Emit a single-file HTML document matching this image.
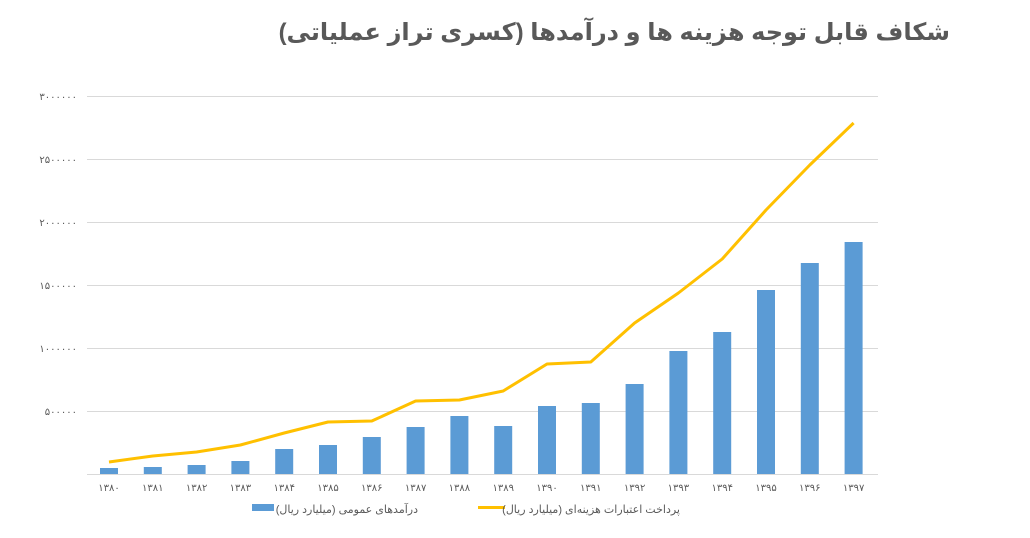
<!DOCTYPE html>
<html><head><meta charset="utf-8"><style>
body{margin:0;background:#fff;width:1030px;height:533px;overflow:hidden}
</style></head><body>
<svg width="1030" height="533" xmlns="http://www.w3.org/2000/svg" font-family="'Liberation Sans','DejaVu Sans',sans-serif">
<text x="950" y="40" text-anchor="start" direction="rtl" font-size="24" font-weight="bold" fill="#595959">شکاف قابل توجه  هزینه ها و درآمدها  (کسری تراز عملیاتی)</text>
<g stroke="#d9d9d9" stroke-width="1">
<line x1="87" x2="878" y1="96.5" y2="96.5"/><line x1="87" x2="878" y1="159.5" y2="159.5"/>
<line x1="87" x2="878" y1="222.5" y2="222.5"/><line x1="87" x2="878" y1="285.5" y2="285.5"/>
<line x1="87" x2="878" y1="348.5" y2="348.5"/><line x1="87" x2="878" y1="411.5" y2="411.5"/>
<line x1="87" x2="878" y1="474.5" y2="474.5"/>
</g>
<g font-size="10" fill="#595959" text-anchor="end">
<text x="77" y="100">۳۰۰۰۰۰۰</text><text x="77" y="163">۲۵۰۰۰۰۰</text><text x="77" y="226">۲۰۰۰۰۰۰</text>
<text x="77" y="289">۱۵۰۰۰۰۰</text><text x="77" y="352">۱۰۰۰۰۰۰</text><text x="77" y="415">۵۰۰۰۰۰</text>
</g>
<g fill="#5b9bd5" id="bars"></g>
<g id="xl" font-size="10" fill="#595959" text-anchor="middle"></g>
<polyline id="ln" fill="none" stroke="#ffc000" stroke-width="3" stroke-linejoin="round"/>
<rect x="252" y="504" width="22" height="7" fill="#5b9bd5"/>
<text x="418" y="513" text-anchor="start" direction="rtl" font-size="11" fill="#595959">درآمدهای عمومی (میلیارد ریال)</text>
<line x1="478" x2="505" y1="507.5" y2="507.5" stroke="#ffc000" stroke-width="3"/>
<text x="680" y="513" text-anchor="start" direction="rtl" font-size="11" fill="#595959">پرداخت اعتبارات هزینه‌ای (میلیارد ریال)</text>
</svg>
<script>
var b=[468,467,465,461,449,445,437,427,416,426,406,403,384,351,332,290,263,242];
var l=[462,456,452,445,433,422,421,401,400,391,364,362,323,293,259,210,165,123];
var d='۰۱۲۳۴۵۶۷۸۹';
var ns='http://www.w3.org/2000/svg',pts=[];
for(var i=0;i<18;i++){var x=109+i*43.8;
var r=document.createElementNS(ns,'rect');r.setAttribute('x',x-9);r.setAttribute('y',b[i]);r.setAttribute('width',18);r.setAttribute('height',474-b[i]);document.getElementById('bars').appendChild(r);
var t=document.createElementNS(ns,'text');t.setAttribute('x',x);t.setAttribute('y',491);
t.textContent=String(1380+i).replace(/\d/g,function(c){return d[c]});document.getElementById('xl').appendChild(t);
pts.push(x+','+l[i]);}
document.getElementById('ln').setAttribute('points',pts.join(' '));
</script>
</body></html>
